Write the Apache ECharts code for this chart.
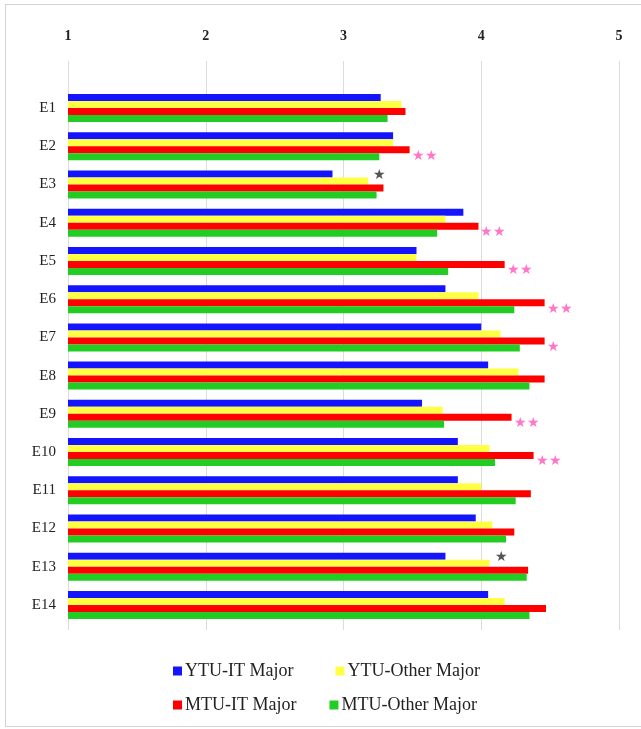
<!DOCTYPE html>
<html>
<head>
<meta charset="utf-8">
<script src="https://cdn.jsdelivr.net/npm/echarts@6/dist/echarts.min.js"></script>
<style>
  html, body { margin: 0; padding: 0; background: #fff; overflow: hidden; }
  #frame { position: absolute; left: 5px; top: 4px; width: 660px; height: 723px; border: 1px solid #d4d4d4; box-sizing: border-box; }
  #chart { position: absolute; left: 0; top: 0; width: 641px; height: 729px; }
</style>
</head>
<body>
<div id="frame"></div>
<div id="chart"></div>
<script>
const items = ['E1', 'E2', 'E3', 'E4', 'E5', 'E6', 'E7', 'E8', 'E9', 'E10', 'E11', 'E12', 'E13', 'E14'];
const seriesNames = ['YTU-IT Major', 'YTU-Other Major', 'MTU-IT Major', 'MTU-Other Major'];
const ytuIt    = [3.27, 3.36, 2.92, 3.87, 3.53, 3.74, 4.00, 4.05, 3.57, 3.83, 3.83, 3.96, 3.74, 4.05];
const ytuOther = [3.42, 3.36, 3.18, 3.74, 3.53, 3.98, 4.14, 4.27, 3.72, 4.06, 4.00, 4.08, 4.06, 4.17];
const mtuIt    = [3.45, 3.48, 3.29, 3.98, 4.17, 4.46, 4.46, 4.46, 4.22, 4.38, 4.36, 4.24, 4.34, 4.47];
const mtuOther = [3.32, 3.26, 3.24, 3.68, 3.76, 4.24, 4.28, 4.35, 3.73, 4.10, 4.25, 4.18, 4.33, 4.35];
// significance marks: pink after MTU-IT bar, dark one near YTU-Other bar
const pinkMarks = ['', '**', '', '**', '**', '**', '*', '', '**', '**', '', '', '', ''];
const darkMarks = ['', '', '*', '', '', '', '', '', '', '', '', '', '*', ''];
const colors = ['#1414ff', '#ffff44', '#ff0000', '#22cc22'];

const serif = 'Liberation Serif';
const star = (s) => s.replace(/\*/g, '★');

const chart = echarts.init(document.getElementById('chart'));

function bars(values, marks, labelStyle) {
  return values.map((v, i) => {
    if (!marks || !marks[i]) return v;
    return { value: v, label: Object.assign({ show: true, formatter: star(marks[i]) }, labelStyle) };
  });
}

const legendText = { fontFamily: serif, fontSize: 18, color: '#222', padding: [0, 0, 0, -2] };

const option = {
  animation: false,
  color: colors,
  grid: [
    { left: 68, right: 22, top: 89, bottom: 105 },
    // taller grid only for the vertical gridlines
    { left: 68, right: 22, top: 61, bottom: 99 },
  ],
  xAxis: [
    {
      type: 'value',
      gridIndex: 0,
      position: 'top',
      min: 1,
      max: 5,
      interval: 1,
      axisLine: { show: false },
      axisTick: { show: false },
      axisLabel: { fontFamily: serif, fontSize: 14, fontWeight: 'bold', color: '#222', margin: 46 },
      splitLine: { show: false },
    },
    {
      type: 'value',
      gridIndex: 1,
      min: 1,
      max: 5,
      interval: 1,
      axisLine: { show: false },
      axisTick: { show: false },
      axisLabel: { show: false },
      splitLine: { lineStyle: { color: '#dcdcdc', width: 1 } },
    },
  ],
  yAxis: [
    {
      type: 'category',
      gridIndex: 0,
      data: items,
      inverse: true,
      axisLine: { show: false },
      axisTick: { show: false },
      axisLabel: { fontFamily: serif, fontSize: 15, color: '#222', margin: 12 },
    },
    { type: 'value', gridIndex: 1, show: false, splitLine: { show: false } },
  ],
  legend: [
    {
      data: seriesNames.slice(0, 2),
      left: 168, top: 657,
      itemWidth: 9, itemHeight: 9, icon: 'rect', itemGap: 42,
      textStyle: legendText,
    },
    {
      data: seriesNames.slice(2),
      left: 168, top: 691,
      itemWidth: 9, itemHeight: 9, icon: 'rect', itemGap: 33,
      textStyle: legendText,
    },
  ],
  series: [
    { name: seriesNames[0], type: 'bar', data: ytuIt, barWidth: 7, barGap: '0%' },
    {
      name: seriesNames[1], type: 'bar', barWidth: 7, barGap: '0%',
      data: bars(ytuOther, darkMarks, { position: 'right', distance: 5, offset: [0, -6], color: '#555', fontSize: 14 }),
    },
    {
      name: seriesNames[2], type: 'bar', barWidth: 7, barGap: '0%',
      data: bars(mtuIt, pinkMarks, { position: 'right', distance: 2, offset: [0, 6], color: '#ff77c8', fontSize: 14 }),
    },
    { name: seriesNames[3], type: 'bar', data: mtuOther, barWidth: 7, barGap: '0%' },
  ],
};
chart.setOption(option);
</script>
</body>
</html>
